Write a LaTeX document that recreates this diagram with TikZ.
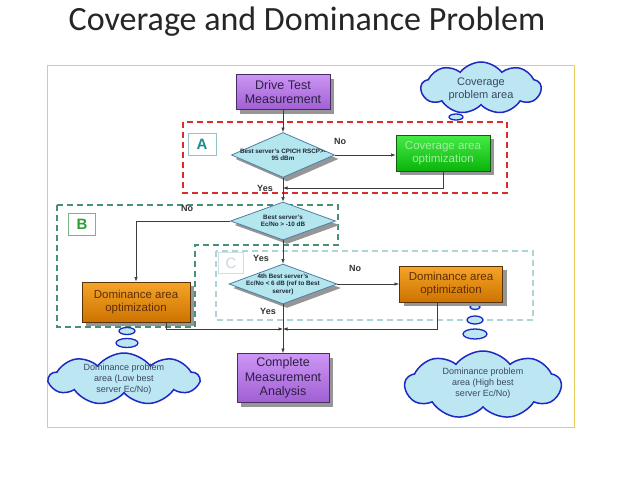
\documentclass[tikz,border=0pt]{standalone}
\usepackage{fontspec}
\setmainfont{Liberation Sans}
\newfontfamily\titlefont{Carlito}
\usetikzlibrary{shapes.geometric,shapes.symbols,shadows,arrows.meta}
\definecolor{frameY}{RGB}{232,205,90}
\definecolor{purpleT}{RGB}{205,150,245}
\definecolor{purpleB}{RGB}{160,95,210}
\definecolor{purpleD}{RGB}{70,45,100}
\definecolor{purpleText}{RGB}{45,30,70}
\definecolor{greenT}{RGB}{70,235,70}
\definecolor{greenB}{RGB}{10,180,10}
\definecolor{greenD}{RGB}{20,90,20}
\definecolor{greenText}{RGB}{165,235,165}
\definecolor{orangeT}{RGB}{245,165,40}
\definecolor{orangeB}{RGB}{205,115,0}
\definecolor{orangeD}{RGB}{90,50,10}
\definecolor{orangeText}{RGB}{95,45,5}
\definecolor{diaF}{RGB}{180,230,238}
\definecolor{diaD}{RGB}{80,125,165}
\definecolor{diaText}{RGB}{30,40,60}
\definecolor{shadowG}{RGB}{150,150,150}
\definecolor{lineC}{RGB}{60,60,60}
\definecolor{cloudF}{RGB}{188,230,242}
\definecolor{cloudD}{RGB}{30,40,195}
\definecolor{cloudText}{RGB}{60,70,100}
\definecolor{redD}{RGB}{220,45,45}
\definecolor{greenDash}{RGB}{70,145,115}
\definecolor{cDash}{RGB}{175,212,215}
\definecolor{aText}{RGB}{30,140,140}
\definecolor{aBox}{RGB}{150,195,195}
\definecolor{bText}{RGB}{40,160,50}
\definecolor{bBox}{RGB}{120,180,140}
\definecolor{cText}{RGB}{195,218,220}
\definecolor{cBox}{RGB}{205,225,228}
\begin{document}
\begin{tikzpicture}[x=1pt,y=-1pt,
  shad/.style={drop shadow={shadow xshift=4pt,shadow yshift=-4pt,fill=shadowG,opacity=1}},
  proc/.style={shad,line width=0.8pt,align=center,inner sep=0pt},
  purplebox/.style={proc,top color=purpleT,bottom color=purpleB,draw=purpleD,text=purpleText,font=\fontsize{12.5}{14.5}\selectfont},
  greenbox/.style={proc,top color=greenT,bottom color=greenB,draw=greenD,text=greenText,font=\fontsize{11.5}{13.5}\selectfont},
  orangebox/.style={proc,top color=orangeT,bottom color=orangeB,draw=orangeD,text=orangeText,font=\fontsize{11.5}{13.5}\selectfont},
  dec/.style={diamond,shad,draw=diaD,fill=diaF,line width=0.8pt,inner sep=0pt},
  dtxt/.style={font=\bfseries\fontsize{6.3}{7.4}\selectfont,align=center,text=diaText},
  conn/.style={draw=lineC,line width=0.6pt,-{Latex[length=4.5pt,width=3.4pt]}},
  yn/.style={font=\bfseries\fontsize{9}{10}\selectfont,text=black!80},
  cloudbox/.style={cloud,cloud puffs=9,cloud puff arc=105,cloud ignores aspect,draw=cloudD,fill=cloudF,line width=1.5pt,inner sep=0pt},
  ctxt/.style={font=\fontsize{9}{11}\selectfont,align=center,text=cloudText},
  bubble/.style={ellipse,draw=cloudD,fill=cloudF,line width=1.3pt,inner sep=0pt},
  lbl/.style={draw,line width=0.7pt,minimum width=28pt,minimum height=22pt,inner sep=0pt,font=\bfseries\fontsize{15}{16}\selectfont}
]
\useasboundingbox (0,0) rectangle (638,479);
\fill[white] (0,0) rectangle (638,479);
\node[font=\titlefont\fontsize{34}{40}\selectfont,text=black!85] (title) at (307,22) {Coverage and Dominance Problem};
\draw[frameY,line width=1pt] (47,65) rectangle (574,427);

% dashed regions
\draw[redD,line width=1.6pt,dash pattern=on 6pt off 4pt] (183,122) rectangle (507,193);
\draw[greenDash,line width=1.6pt,dash pattern=on 6pt off 4pt] (57,205) -- (338,205) -- (338,245) -- (195,245) -- (195,327) -- (57,327) -- cycle;
\draw[cDash,line width=1.1pt,dash pattern=on 6pt off 4pt] (216,251) rectangle (533,320);
\node[lbl,draw=aBox,text=aText] (labA) at (202,144) {A};
\node[lbl,draw=bBox,text=bText,minimum width=27pt] (labB) at (82,224) {B};
\node[lbl,draw=cBox,text=cText,font=\fontsize{15}{16}\selectfont,minimum width=25pt,minimum height=21pt] (labC) at (231,263) {C};

% clouds
\node[cloudbox,minimum width=120pt,minimum height=52pt] (cc) at (481,88) {};
\node[ctxt,font=\fontsize{11}{13}\selectfont] (cct) at (481,89) {Coverage\\problem area};
\node[bubble,minimum width=14pt,minimum height=6pt] (cb1) at (456,117) {};

\node[cloudbox,minimum width=150pt,minimum height=52pt] (lc) at (124,379) {};
\node[ctxt] (lct) at (124,379) {Dominance problem\\area (Low best\\server Ec/No)};
\node[bubble,minimum width=10pt,minimum height=5pt] (lb1) at (127,321) {};
\node[bubble,minimum width=16pt,minimum height=7pt] (lb2) at (127,331) {};
\node[bubble,minimum width=22pt,minimum height=9pt] (lb3) at (127,343) {};

\node[cloudbox,minimum width=156pt,minimum height=68pt] (rc) at (483,385) {};
\node[ctxt] (rct) at (483,383) {Dominance problem\\area (High best\\server Ec/No)};
\node[bubble,minimum width=10pt,minimum height=5pt] (rb1) at (475,307) {};
\node[bubble,minimum width=16pt,minimum height=8pt] (rb2) at (475,320) {};
\node[bubble,minimum width=24pt,minimum height=10pt] (rb3) at (475,334) {};

% process nodes
\node[purplebox,minimum width=94pt,minimum height=35pt] (dt) at (283,92) {Drive Test\\Measurement};
\node[dec,minimum width=103pt,minimum height=45pt,label={[dtxt]center:{Best server's CPICH RSCP>-\\95 dBm}}] (d1) at (283,155) {};
\node[greenbox,minimum width=94pt,minimum height=36pt] (cov) at (443,153) {Coverage area\\optimization};
\node[dec,minimum width=105pt,minimum height=38pt,label={[dtxt]center:{Best server's\\Ec/No > -10 dB}}] (d2) at (283,221) {};
\node[dec,minimum width=108pt,minimum height=40pt,label={[dtxt]center:{4th Best server's\\Ec/No < 6 dB (ref to Best\\server)}}] (d3) at (283,284) {};
\node[orangebox,minimum width=108pt,minimum height=40pt] (dl) at (136,302) {Dominance area\\optimization};
\node[orangebox,minimum width=103pt,minimum height=36pt] (dr) at (451,284) {Dominance area\\optimization};
\node[purplebox,minimum width=92pt,minimum height=49pt] (cm) at (283,378) {Complete\\Measurement\\Analysis};

\coordinate (j1) at (283,188);
\coordinate (j2) at (283,329);

% connectors
\draw[conn] (dt.south) -- (d1.north);
\draw[conn] (d1.east) -- (d1.east -| cov.west);
\draw[conn] (cov.south) |- (j1);
\draw[conn] (d1.south) -- (d2.north);
\draw[conn] (d2.west) -| (dl.north);
\draw[conn] (d2.south) -- (d3.north);
\draw[conn] (d3.east) -- (dr.west);
\draw[conn] ([xshift=-14pt]dr.south) |- (j2);
\draw[conn] ([xshift=30pt]dl.south) |- (j2);
\draw[conn] (d3.south) -- (cm.north);

% yes / no labels
\node[yn] (no1) at (340,141) {No};
\node[yn] (yes1) at (265,188) {Yes};
\node[yn] (no2) at (187,208) {No};
\node[yn] (yes2) at (261,258) {Yes};
\node[yn] (no3) at (355,268) {No};
\node[yn] (yes3) at (268,311) {Yes};
\end{tikzpicture}
\end{document}
